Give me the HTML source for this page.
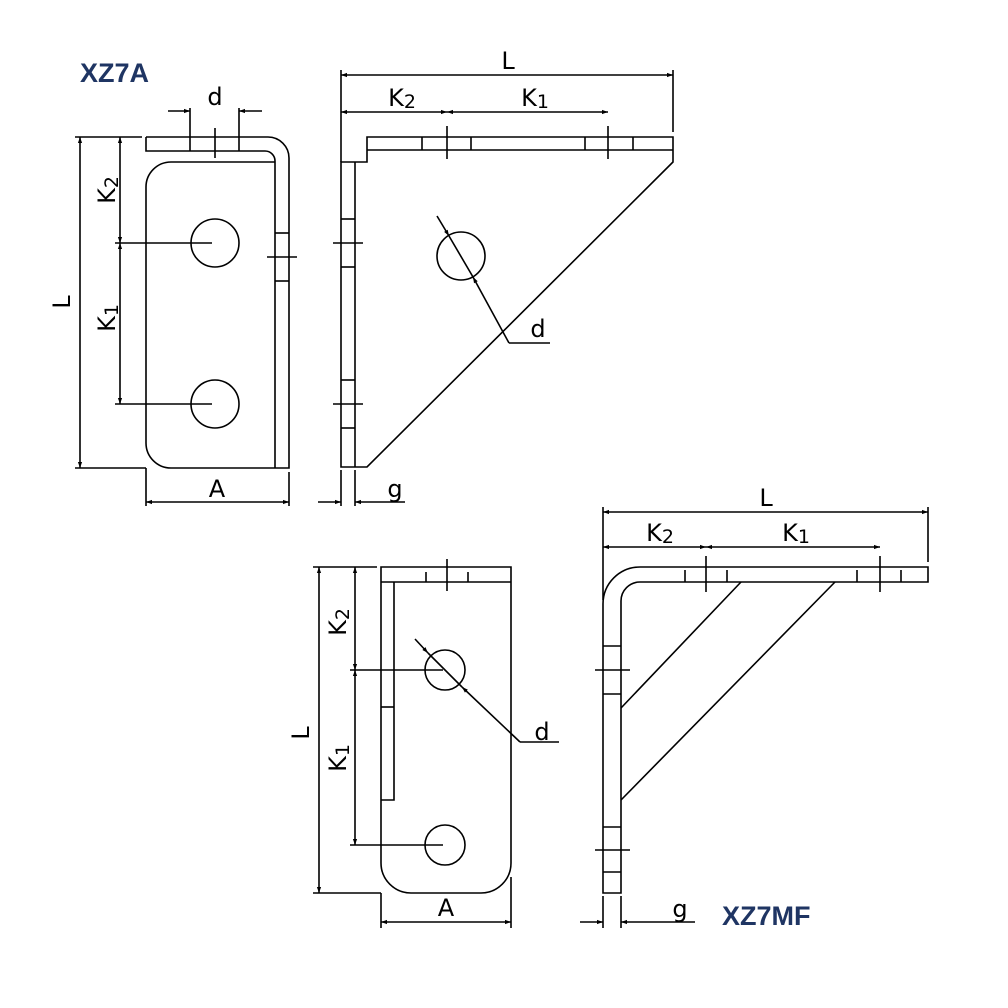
<!DOCTYPE html>
<html><head><meta charset="utf-8"><style>
html,body{margin:0;padding:0;background:#fff}
svg{display:block}
text{font-family:"Liberation Sans",sans-serif;fill:#000}
.t{font-family:"DejaVu Sans","Liberation Sans",sans-serif;font-size:24px}
.b{font-family:"Liberation Sans",sans-serif;font-weight:bold;font-size:27px;fill:#1f3563}
</style></head><body>
<svg width="1008" height="1008" viewBox="0 0 1008 1008" xmlns="http://www.w3.org/2000/svg">
<defs>
<marker id="a" viewBox="0 0 10 10" refX="10" refY="5" markerWidth="10" markerHeight="6" orient="auto-start-reverse" markerUnits="userSpaceOnUse"><path d="M0,1.5 L10,5 L0,8.5z" fill="#000"/></marker>
</defs>
<g fill="none" stroke="#000" stroke-width="1.6">
<!-- ===== Top-left view ===== -->
<path d="M146,137 H268 A21,21 0 0 1 289,158 V468 H171 A25,25 0 0 1 146,443 V187 A25,25 0 0 1 171,162 H275"/>
<path d="M146,137 V151 H265 A10,10 0 0 1 275,161 V468"/>
<line x1="275" y1="233" x2="289" y2="233"/><line x1="275" y1="281" x2="289" y2="281"/>
<line x1="267" y1="257" x2="297" y2="257"/>
<circle cx="215" cy="243" r="24"/><circle cx="215" cy="404" r="24"/>
<line x1="115" y1="243" x2="212" y2="243"/><line x1="115" y1="404" x2="212" y2="404"/>
<line x1="190" y1="108" x2="190" y2="151"/><line x1="239" y1="108" x2="239" y2="151"/>
<line x1="215" y1="128" x2="215" y2="158"/>
<line x1="168" y1="111" x2="190" y2="111" marker-end="url(#a)"/>
<line x1="262" y1="111" x2="239" y2="111" marker-end="url(#a)"/>
<line x1="75" y1="137" x2="142" y2="137"/><line x1="75" y1="468" x2="146" y2="468"/>
<line x1="80" y1="137" x2="80" y2="468" marker-start="url(#a)" marker-end="url(#a)"/>
<line x1="120" y1="137" x2="120" y2="243" marker-start="url(#a)" marker-end="url(#a)"/>
<line x1="120" y1="243" x2="120" y2="404" marker-start="url(#a)" marker-end="url(#a)"/>
<line x1="146" y1="468" x2="146" y2="506"/><line x1="289" y1="472" x2="289" y2="506"/>
<line x1="146" y1="502" x2="289" y2="502" marker-start="url(#a)" marker-end="url(#a)"/>
<!-- ===== Top-right view ===== -->
<path d="M367,137 H673 V162 L367,467 H341 V162 H367 Z"/>
<line x1="367" y1="150" x2="673" y2="150"/>
<line x1="355" y1="162" x2="355" y2="467"/>
<line x1="422" y1="137" x2="422" y2="150"/><line x1="471" y1="137" x2="471" y2="150"/>
<line x1="585" y1="137" x2="585" y2="150"/><line x1="633" y1="137" x2="633" y2="150"/>
<line x1="447" y1="126" x2="447" y2="159"/><line x1="608" y1="126" x2="608" y2="159"/>
<line x1="341" y1="219" x2="355" y2="219"/><line x1="341" y1="267" x2="355" y2="267"/>
<line x1="333" y1="243" x2="363" y2="243"/>
<line x1="341" y1="380" x2="355" y2="380"/><line x1="341" y1="428" x2="355" y2="428"/>
<line x1="333" y1="404" x2="363" y2="404"/>
<circle cx="461" cy="256" r="24"/>
<line x1="341" y1="70" x2="341" y2="162"/>
<line x1="673" y1="70" x2="673" y2="132"/>
<line x1="341" y1="75" x2="673" y2="75" marker-start="url(#a)" marker-end="url(#a)"/>
<line x1="341" y1="112" x2="447" y2="112" marker-start="url(#a)" marker-end="url(#a)"/>
<line x1="447" y1="112" x2="608" y2="112" marker-start="url(#a)" marker-end="url(#a)"/>
<line x1="437" y1="216" x2="449" y2="236" marker-end="url(#a)"/>
<line x1="449" y1="236" x2="473" y2="277"/>
<line x1="509" y1="343" x2="473" y2="277" marker-end="url(#a)"/>
<line x1="509" y1="343" x2="550" y2="343"/>
<line x1="341" y1="470" x2="341" y2="506"/><line x1="355" y1="470" x2="355" y2="506"/>
<line x1="318" y1="502" x2="341" y2="502" marker-end="url(#a)"/>
<line x1="405" y1="502" x2="355" y2="502" marker-end="url(#a)"/>
<!-- ===== Bottom-left view ===== -->
<path d="M381,567 H511 V863 A30,30 0 0 1 481,893 H411 A30,30 0 0 1 381,863 Z"/>
<line x1="381" y1="582" x2="511" y2="582"/>
<path d="M394,582 V800 H381"/>
<line x1="381" y1="707" x2="394" y2="707"/>
<line x1="426" y1="572" x2="426" y2="582"/><line x1="468" y1="572" x2="468" y2="582"/>
<line x1="447" y1="559" x2="447" y2="591"/>
<circle cx="445" cy="670" r="20"/><circle cx="445" cy="845" r="20"/>
<line x1="350" y1="670" x2="443" y2="670"/><line x1="350" y1="845" x2="443" y2="845"/>
<line x1="415" y1="639" x2="428" y2="653" marker-end="url(#a)"/>
<line x1="428" y1="653" x2="462" y2="687"/>
<line x1="520" y1="742" x2="462" y2="687" marker-end="url(#a)"/>
<line x1="520" y1="742" x2="559" y2="742"/>
<line x1="313" y1="567" x2="377" y2="567"/><line x1="313" y1="893" x2="381" y2="893"/>
<line x1="319" y1="567" x2="319" y2="893" marker-start="url(#a)" marker-end="url(#a)"/>
<line x1="355" y1="567" x2="355" y2="670" marker-start="url(#a)" marker-end="url(#a)"/>
<line x1="355" y1="670" x2="355" y2="845" marker-start="url(#a)" marker-end="url(#a)"/>
<line x1="381" y1="893" x2="381" y2="928"/><line x1="511" y1="877" x2="511" y2="928"/>
<line x1="381" y1="922" x2="511" y2="922" marker-start="url(#a)" marker-end="url(#a)"/>
<!-- ===== Bottom-right view ===== -->
<path d="M928,567 H640 A37,37 0 0 0 603,604 V893 H621 V601 A19,19 0 0 1 640,582 H928 Z"/>
<line x1="685" y1="570" x2="685" y2="582"/><line x1="727" y1="570" x2="727" y2="582"/>
<line x1="857" y1="570" x2="857" y2="582"/><line x1="901" y1="570" x2="901" y2="582"/>
<line x1="706" y1="556" x2="706" y2="592"/><line x1="880" y1="556" x2="880" y2="592"/>
<line x1="741" y1="582" x2="621" y2="708"/>
<line x1="835" y1="582" x2="621" y2="800"/>
<line x1="603" y1="646" x2="621" y2="646"/><line x1="603" y1="694" x2="621" y2="694"/>
<line x1="595" y1="670" x2="630" y2="670"/>
<line x1="603" y1="827" x2="621" y2="827"/><line x1="603" y1="872" x2="621" y2="872"/>
<line x1="595" y1="850" x2="630" y2="850"/>
<line x1="603" y1="507" x2="603" y2="600"/>
<line x1="928" y1="507" x2="928" y2="562"/>
<line x1="603" y1="512" x2="928" y2="512" marker-start="url(#a)" marker-end="url(#a)"/>
<line x1="603" y1="547" x2="706" y2="547" marker-start="url(#a)" marker-end="url(#a)"/>
<line x1="706" y1="547" x2="880" y2="547" marker-start="url(#a)" marker-end="url(#a)"/>
<line x1="603" y1="896" x2="603" y2="928"/><line x1="621" y1="896" x2="621" y2="928"/>
<line x1="580" y1="922" x2="603" y2="922" marker-end="url(#a)"/>
<line x1="695" y1="922" x2="621" y2="922" marker-end="url(#a)"/>
</g>
<!-- labels -->
<text class="b" x="80" y="82">XZ7A</text>
<text class="b" x="722" y="925">XZ7MF</text>
<text class="t" x="215" y="105" text-anchor="middle">d</text>
<text class="t" x="217" y="497" text-anchor="middle">A</text>
<text class="t" x="395" y="497" text-anchor="middle">g</text>
<text class="t" transform="translate(70,302) rotate(-90)" text-anchor="middle">L</text>
<text class="t" transform="translate(115,190) rotate(-90)" text-anchor="middle">K<tspan font-size="19" dy="3">2</tspan></text>
<text class="t" transform="translate(115,318) rotate(-90)" text-anchor="middle">K<tspan font-size="19" dy="3">1</tspan></text>
<text class="t" x="508" y="69" text-anchor="middle">L</text>
<text class="t" x="402" y="106" text-anchor="middle">K<tspan font-size="19" dy="2">2</tspan></text>
<text class="t" x="535" y="106" text-anchor="middle">K<tspan font-size="19" dy="2">1</tspan></text>
<text class="t" x="538" y="337" text-anchor="middle">d</text>
<text class="t" transform="translate(309,733) rotate(-90)" text-anchor="middle">L</text>
<text class="t" transform="translate(346,622) rotate(-90)" text-anchor="middle">K<tspan font-size="19" dy="3">2</tspan></text>
<text class="t" transform="translate(346,758) rotate(-90)" text-anchor="middle">K<tspan font-size="19" dy="3">1</tspan></text>
<text class="t" x="542" y="740" text-anchor="middle">d</text>
<text class="t" x="446" y="916" text-anchor="middle">A</text>
<text class="t" x="766" y="506" text-anchor="middle">L</text>
<text class="t" x="660" y="541" text-anchor="middle">K<tspan font-size="19" dy="2">2</tspan></text>
<text class="t" x="796" y="541" text-anchor="middle">K<tspan font-size="19" dy="2">1</tspan></text>
<text class="t" x="680" y="917" text-anchor="middle">g</text>
</svg>
</body></html>
